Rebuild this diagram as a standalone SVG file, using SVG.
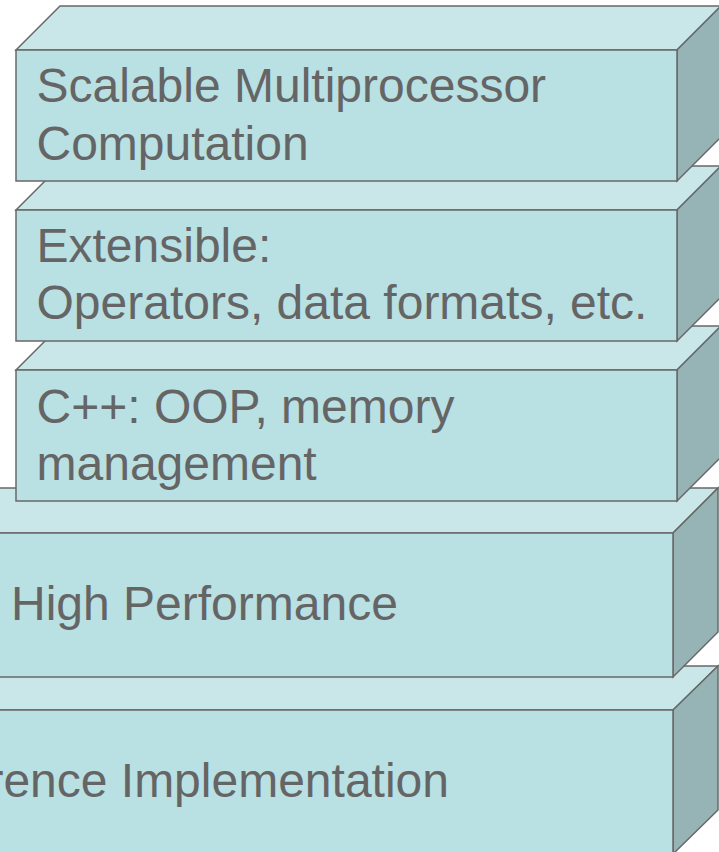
<svg xmlns="http://www.w3.org/2000/svg" width="719" height="852" viewBox="0 0 719 852">
<style>
.front{fill:#b9e0e3;stroke:#686868;stroke-width:1.5}
.top{fill:#c9e6e8;stroke:#686868;stroke-width:1.5}
.side{fill:#96b4b6;stroke:#686868;stroke-width:1.5}
text{font-family:"Liberation Sans",Arial,sans-serif;font-size:48px;fill:#656565}
</style>
<rect width="719" height="852" fill="#ffffff"/>
<g id="box-reference">
<polygon class="top" points="-300,710 -256,666 718,666 673,710"/>
<polygon class="side" points="673,710 718,666 718,810 673,854"/>
<rect class="front" x="-300" y="710" width="973" height="144"/>
<text x="-114" y="797">Reference Implementation</text>
</g>
<g id="box-performance">
<polygon class="top" points="-300,533 -256,488 718,488 673,533"/>
<polygon class="side" points="673,533 718,488 718,632 673,677"/>
<rect class="front" x="-300" y="533" width="973" height="144"/>
<text x="11" y="620">High Performance</text>
</g>
<g id="box-cpp">
<polygon class="top" points="16,370 60,326 721,326 677,370"/>
<polygon class="side" points="677,370 721,326 721,457 677,501"/>
<rect class="front" x="16" y="370" width="661" height="131"/>
<text x="36.5" y="422.5">C++: OOP, memory</text>
<text x="36.5" y="480">management</text>
</g>
<g id="box-extensible">
<polygon class="top" points="16,210 60,166 721,166 677,210"/>
<polygon class="side" points="677,210 721,166 721,297 677,341"/>
<rect class="front" x="16" y="210" width="661" height="131"/>
<text x="36.5" y="261.5">Extensible:</text>
<text x="36.5" y="319">Operators, data formats, etc.</text>
</g>
<g id="box-scalable">
<polygon class="top" points="16,50 60,6 721,6 677,50"/>
<polygon class="side" points="677,50 721,6 721,137 677,181"/>
<rect class="front" x="16" y="50" width="661" height="131"/>
<text x="36.5" y="102">Scalable Multiprocessor</text>
<text x="36.5" y="159.5">Computation</text>
</g>
<g id="connectors"></g>
</svg>
